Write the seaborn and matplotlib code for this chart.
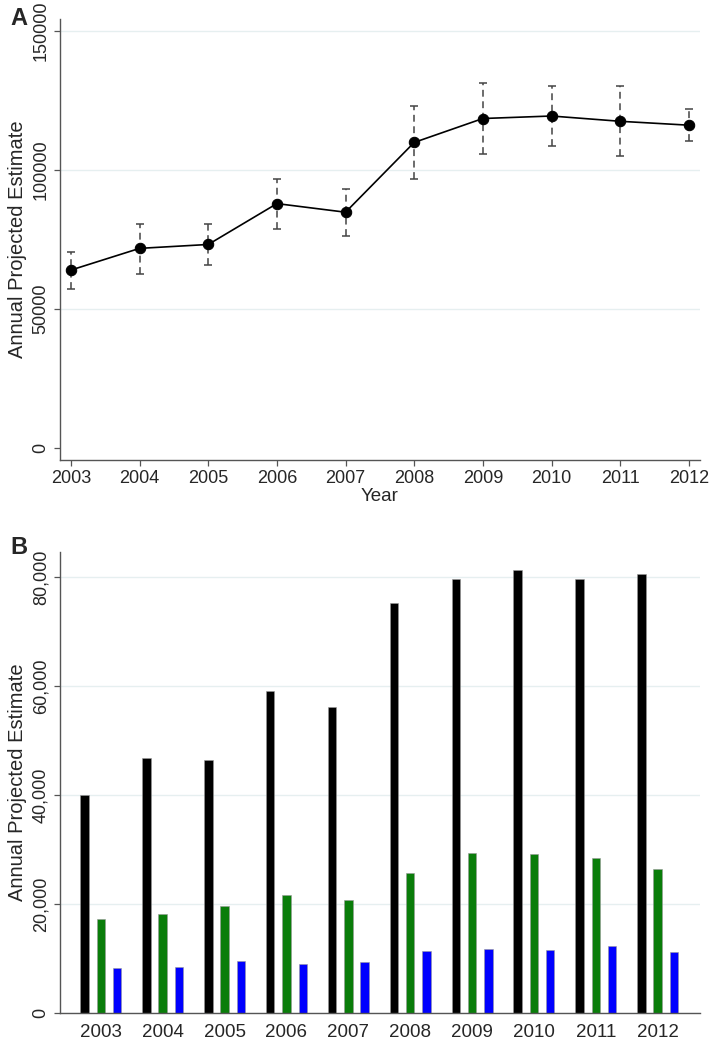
import numpy as np
import pandas as pd
import matplotlib
matplotlib.use("Agg")
import matplotlib.pyplot as plt
import matplotlib.ticker as mticker
import seaborn as sns

# ---- data ----
YEARS = [2003, 2004, 2005, 2006, 2007, 2008, 2009, 2010, 2011, 2012]

# panel A: total estimate with interval
ESTIMATE = [64000, 71800, 73200, 87900, 84800, 109900, 118500, 119400, 117500, 116100]
LOWER = [57200, 62700, 65900, 78800, 76400, 96900, 105900, 108600, 104900, 110300]
UPPER = [70600, 80700, 80700, 96900, 93100, 123000, 131300, 130100, 130100, 122000]

# panel B: three series per year
SERIES_NAMES = ["Series 1", "Series 2", "Series 3"]
SERIES_1 = [40000, 46800, 46400, 59100, 56100, 75200, 79700, 81300, 79600, 80500]
SERIES_2 = [17250, 18100, 19700, 21700, 20800, 25700, 29400, 29100, 28400, 26500]
SERIES_3 = [8300, 8400, 9500, 9000, 9400, 11300, 11800, 11600, 12350, 11250]
COLORS = ["#000000", "#0a7d0a", "#0000ff"]

sns.set_style("white")
plt.rcParams['font.family'] = ['Liberation Sans', 'DejaVu Sans']
plt.rcParams['font.size'] = 13

SPINE = "#555555"
GRID = "#e6eff0"

fig = plt.figure(figsize=(7.09, 10.48), dpi=100)
ax_a = fig.add_axes([0.0846, 0.5611, 0.9024, 0.4208])
ax_b = fig.add_axes([0.0846, 0.0334, 0.9024, 0.4399])

# ---- panel A ----
df_a = pd.DataFrame({"Year": YEARS, "Estimate": ESTIMATE, "Lower": LOWER, "Upper": UPPER})
est = df_a["Estimate"].to_numpy()
err = [est - df_a["Lower"].to_numpy(), df_a["Upper"].to_numpy() - est]
eb = ax_a.errorbar(df_a["Year"], est, yerr=err, fmt="none", ecolor="#444444",
                   elinewidth=1.1, capsize=2.6, capthick=1.1, zorder=2)
eb[2][0].set_linestyle((0, (4.5, 3)))
sns.lineplot(data=df_a, x="Year", y="Estimate", ax=ax_a, color="black",
             linewidth=1.2, marker="o", markersize=7.5, markeredgecolor="black", zorder=3)

ax_a.set_xlim(2002.84, 2012.16)
ax_a.set_ylim(-4300, 154300)
ax_a.set_xticks(YEARS)
ax_a.set_yticks([0, 50000, 100000, 150000])
ax_a.set_xlabel("Year", labelpad=0.5, fontsize=13.5)
ax_a.set_ylabel("Annual Projected Estimate", labelpad=4, fontsize=14.5)
ax_a.text(-0.078, 1.0, "A", transform=ax_a.transAxes, fontsize=17, fontweight="bold",
          ha="left", va="center")

# ---- panel B ----
df_b = pd.DataFrame({
    "Year": YEARS * 3,
    "Value": SERIES_1 + SERIES_2 + SERIES_3,
    "Series": [SERIES_NAMES[0]] * 10 + [SERIES_NAMES[1]] * 10 + [SERIES_NAMES[2]] * 10,
})
df_b["Year"] = df_b["Year"].astype(str)
sns.barplot(data=df_b, x="Year", y="Value", hue="Series", palette=COLORS, ax=ax_b,
            width=0.79, gap=0.48, legend=False, linewidth=0.4, edgecolor="#999999",
            saturation=1)

ax_b.set_xlim(-0.66, 9.68)
ax_b.set_ylim(0, 84600)
ax_b.set_yticks([0, 20000, 40000, 60000, 80000])
ax_b.yaxis.set_major_formatter(mticker.FuncFormatter(lambda v, p: f"{int(v):,}"))
ax_b.set_xlabel("")
ax_b.set_ylabel("Annual Projected Estimate", labelpad=4, fontsize=14.5)
ax_b.text(-0.078, 1.01, "B", transform=ax_b.transAxes, fontsize=17, fontweight="bold",
          ha="left", va="center")

# ---- shared styling ----
for ax in (ax_a, ax_b):
    for side in ("top", "right"):
        ax.spines[side].set_visible(False)
    for side in ("left", "bottom"):
        ax.spines[side].set_color(SPINE)
        ax.spines[side].set_linewidth(1.0)
    ax.yaxis.grid(True, color=GRID, linewidth=1.0)
    ax.set_axisbelow(True)
    ax.tick_params(axis="y", length=4.5, width=0.9, color=SPINE, pad=3, left=True)
    plt.setp(ax.get_yticklabels(), rotation=90, va="center")

ax_a.tick_params(axis="x", length=4.5, width=0.9, color=SPINE, pad=3, bottom=True)
ax_b.tick_params(axis="x", length=0, pad=8, labelsize=13.5)
# hide the 0 gridline in A
for gl, v in zip(ax_a.get_ygridlines(), ax_a.get_yticks()):
    if v == 0:
        gl.set_visible(False)

fig.savefig("out.png", dpi=100)
